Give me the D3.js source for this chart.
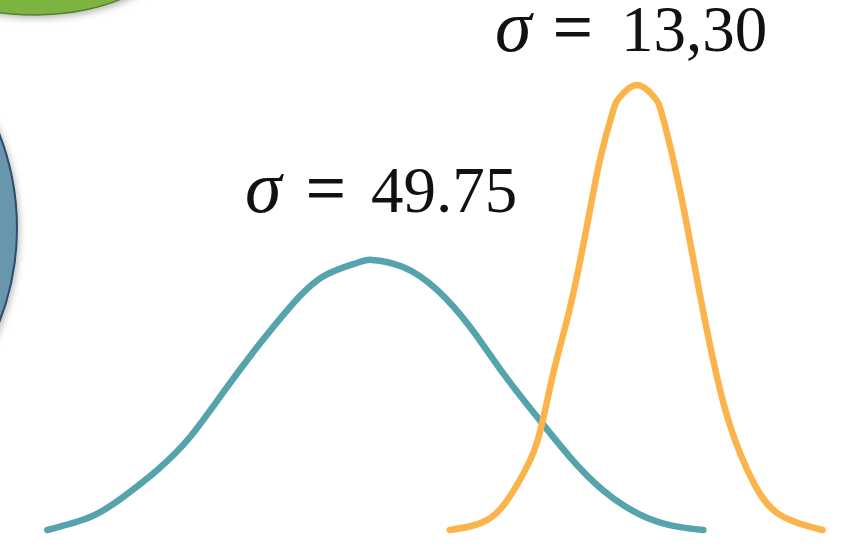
<!DOCTYPE html>
<html>
<head>
<meta charset="utf-8">
<script src="https://cdn.jsdelivr.net/npm/d3@7"></script>
<style>
  body { margin: 0; background: #fff; }
</style>
</head>
<body>
<script>
// wide curve (sigma = 49.75)
var wideX = [0.3, 5.8, 10.0, 14.4, 18.6, 22.8, 27.2, 31.4, 35.6, 40.0, 41.9, 45.9, 50.3, 54.5, 58.7, 63.1, 67.3, 71.5, 75.9, 80.1, 84.4];
var wideY = [0, 0.029, 0.074, 0.135, 0.209, 0.308, 0.411, 0.501, 0.569, 0.600, 0.607, 0.591, 0.539, 0.456, 0.353, 0.254, 0.164, 0.090, 0.038, 0.011, 0];

// narrow curve (sigma = 13,30)
var narrowX = [51.9, 57.1, 60.5, 63.1, 65.1, 67.3, 69.5, 71.2, 72.8, 73.7, 75.9, 78.1, 79.0, 80.5, 82.3, 83.9, 85.6, 87.8, 90.8, 94.2, 99.7];
var narrowY = [0, 0.027, 0.101, 0.198, 0.348, 0.499, 0.685, 0.836, 0.940, 0.973, 1.0, 0.973, 0.940, 0.836, 0.685, 0.535, 0.387, 0.236, 0.108, 0.034, 0];

var labels = ['49.75', '13,30'];

var svg = d3.select('body').append('svg')
    .attr('width', 863)
    .attr('height', 547);

var x = d3.scaleLinear().domain([0, 100]).range([45, 825]);
var y = d3.scaleLinear().domain([0, 1]).range([530, 85]);

// shadow for the shapes at the edge
var defs = svg.append('defs');
var f = defs.append('filter').attr('id', 'shadow')
    .attr('x', '-20%').attr('y', '-20%').attr('width', '140%').attr('height', '140%');
f.append('feDropShadow')
    .attr('dx', 2).attr('dy', 3)
    .attr('stdDeviation', 3)
    .attr('flood-color', '#000')
    .attr('flood-opacity', 0.25);

// green shape top left (cut off)
svg.append('ellipse')
    .attr('cx', 35)
    .attr('cy', -62)
    .attr('rx', 142)
    .attr('ry', 77)
    .attr('fill', '#7cb443')
    .attr('stroke', '#557f2c')
    .attr('stroke-width', 1.5)
    .attr('filter', 'url(#shadow)');

// blue circle on the left (cut off)
svg.append('circle')
    .attr('cx', -243)
    .attr('cy', 228)
    .attr('r', 260)
    .attr('fill', '#6896ac')
    .attr('stroke', '#2e4b6c')
    .attr('stroke-width', 2)
    .attr('filter', 'url(#shadow)');

var line = d3.line()
    .x(function(d) { return x(d[0]); })
    .y(function(d) { return y(d[1]); })
    .curve(d3.curveNatural);

var wide = d3.zip(wideX, wideY);
var narrow = d3.zip(narrowX, narrowY);

svg.append('path')
    .datum(wide)
    .attr('d', line)
    .attr('fill', 'none')
    .attr('stroke', '#55a3ad')
    .attr('stroke-width', 6.5)
    .attr('stroke-linecap', 'round');

svg.append('path')
    .datum(narrow)
    .attr('d', line)
    .attr('fill', 'none')
    .attr('stroke', '#fbb44c')
    .attr('stroke-width', 6.5)
    .attr('stroke-linecap', 'round');

// sigma labels
function sigmaLabel(sx, eqx, nx, base, txt) {
    var g = svg.append('g')
        .attr('font-family', '"Liberation Serif", "DejaVu Serif", serif')
        .attr('fill', '#111');
    g.append('text')
        .attr('x', sx).attr('y', base)
        .attr('font-style', 'italic')
        .attr('font-size', 74)
        .text('σ');
    g.append('text')
        .attr('x', eqx).attr('y', base)
        .attr('font-size', 70)
        .attr('stroke', '#111')
        .attr('stroke-width', 0.8)
        .text('=');
    g.append('text')
        .attr('x', nx).attr('y', base)
        .attr('font-size', 65)
        .text(txt);
}

sigmaLabel(245, 306, 371, 212, labels[0]);
sigmaLabel(495, 553, 621, 51, labels[1]);
</script>
</body>
</html>
